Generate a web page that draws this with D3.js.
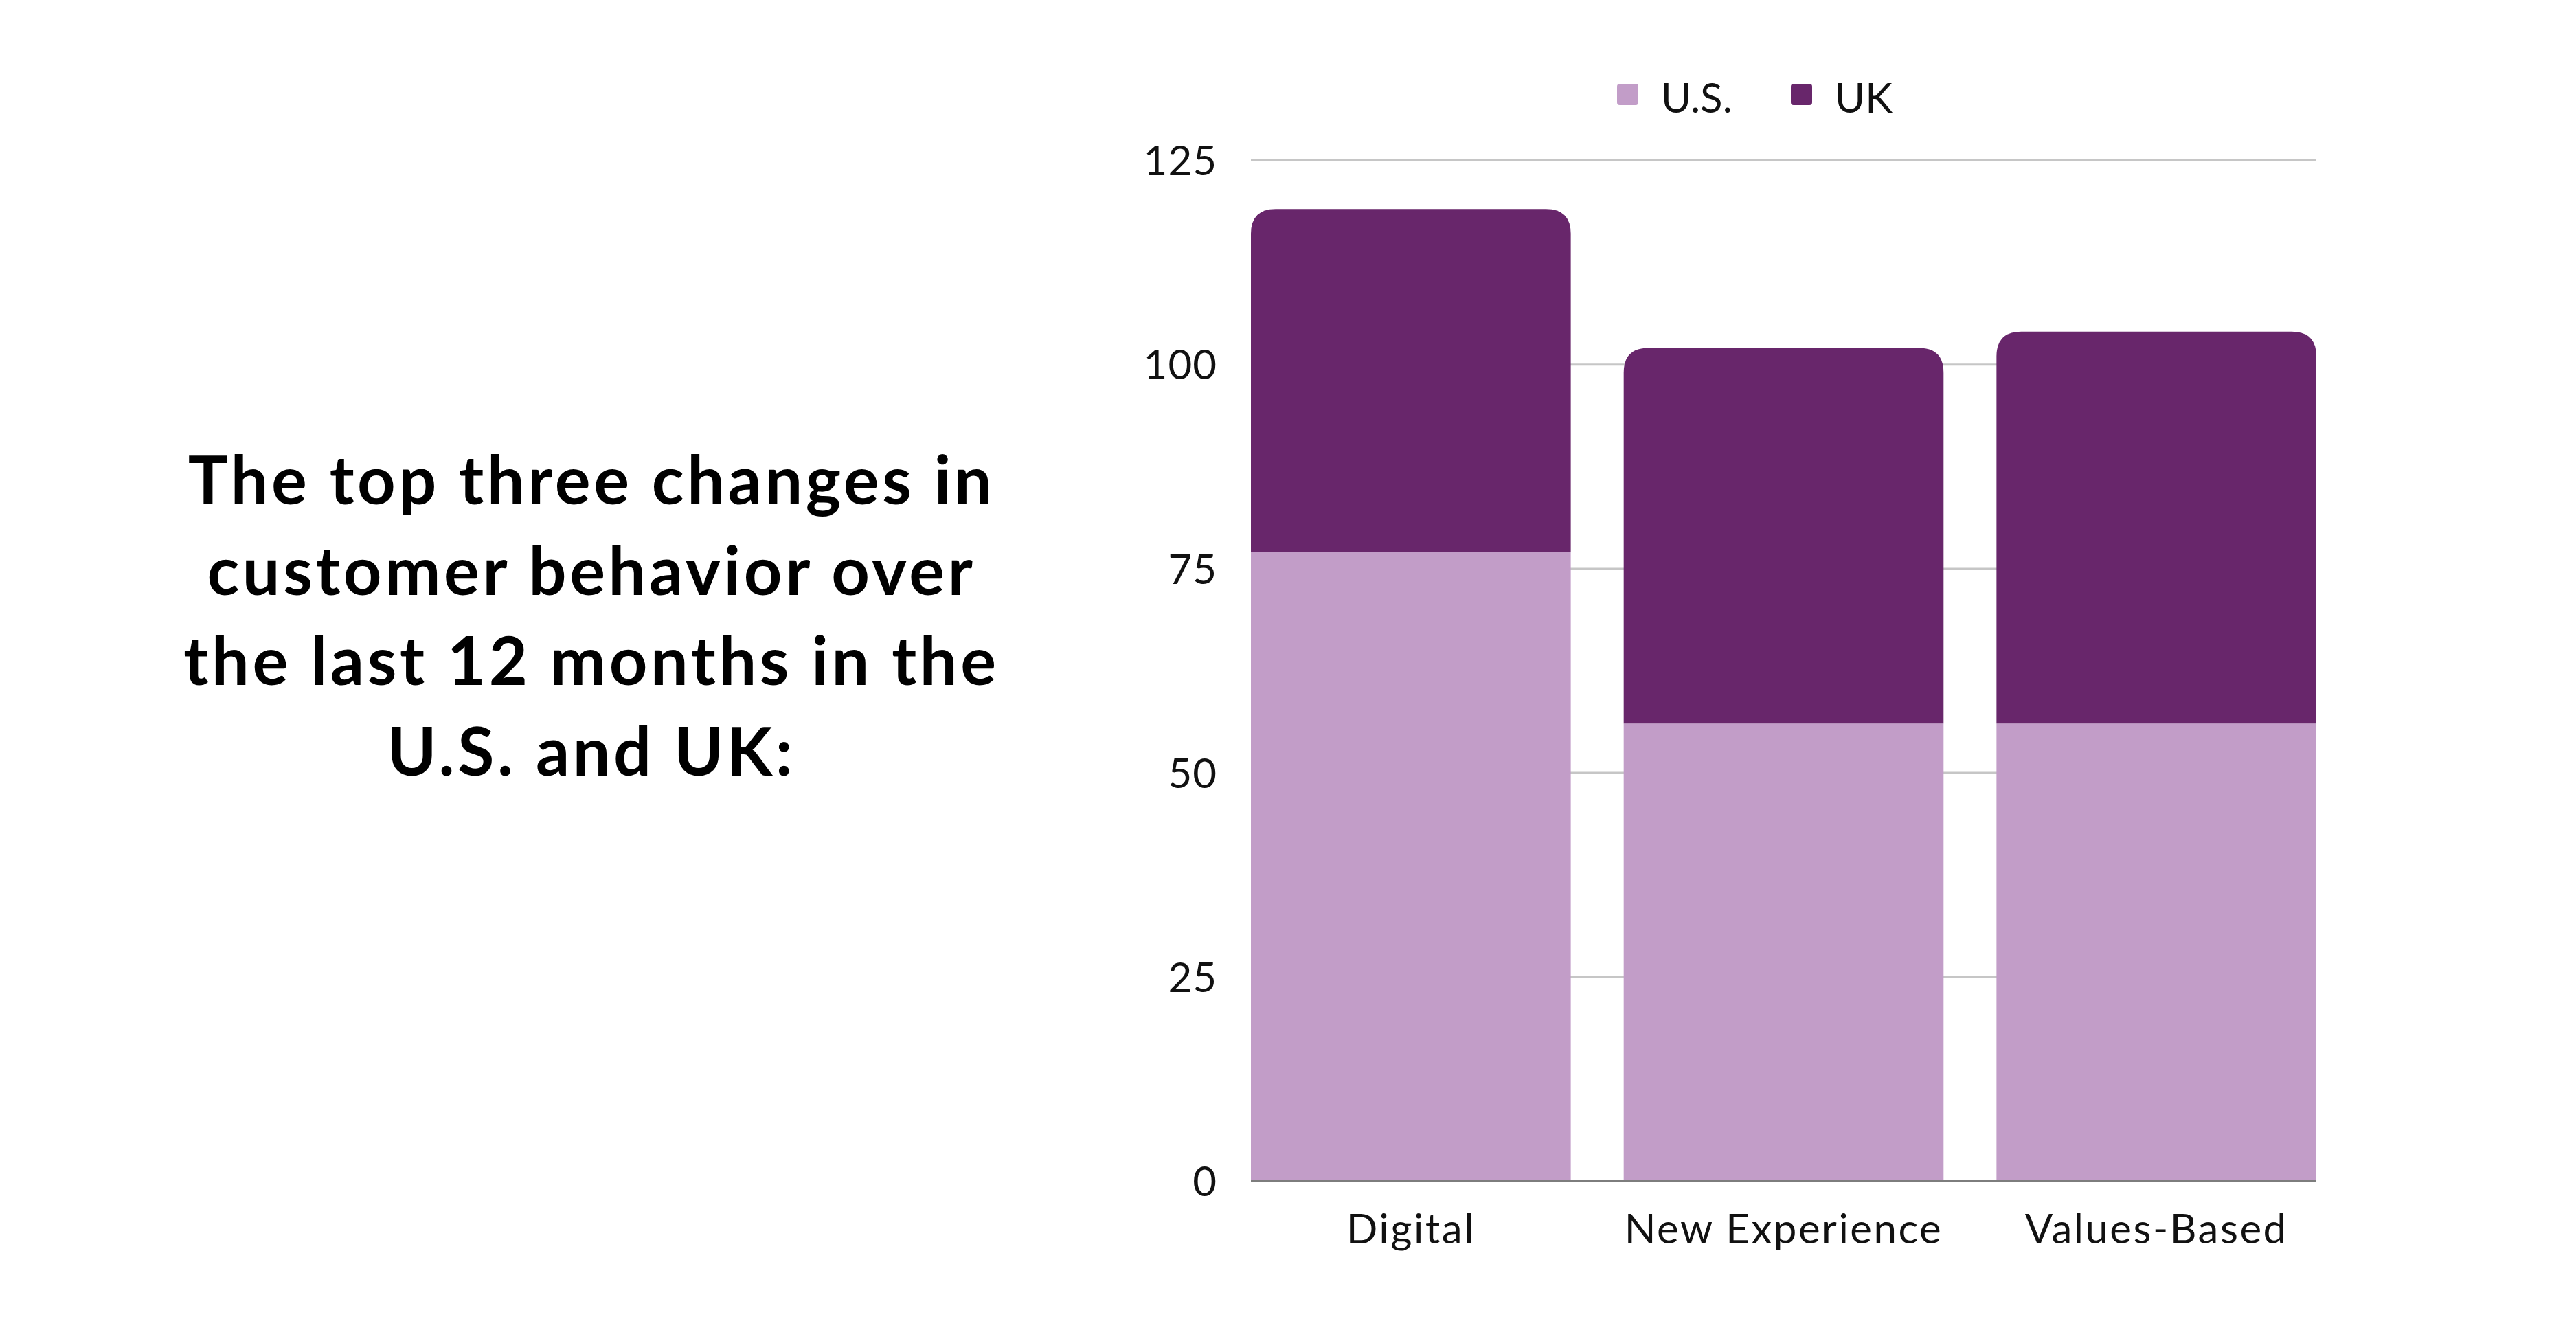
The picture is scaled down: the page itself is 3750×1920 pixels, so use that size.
<!DOCTYPE html>
<html>
<head>
<meta charset="utf-8">
<script src="https://cdn.jsdelivr.net/npm/d3@7"></script>
<style>
  html, body { margin: 0; padding: 0; background: #ffffff; }
  svg { display: block; }
</style>
</head>
<body>
<svg id="chart" width="3750" height="1920"></svg>
<script>
// ---- data ----
const categories = ["Digital", "New Experience", "Values-Based"];
const seriesNames = ["U.S.", "UK"];
const usValues = [77, 56, 56];
const ukValues = [42, 46, 48];
const yTicks = [0, 25, 50, 75, 100, 125];
const titleLines = [
  "The top three changes in",
  "customer behavior over",
  "the last 12 months in the",
  "U.S. and UK:"
];

const colors = { "U.S.": "#c29dc8", "UK": "#68266b" };

const W = 3750, H = 1920;
const plot = { left: 1821, right: 3372, top: 233, bottom: 1719 };

const svg = d3.select("#chart");
svg.append("rect").attr("width", W).attr("height", H).attr("fill", "#fff");

const rows = categories.map((c, i) => ({ cat: c, "U.S.": usValues[i], "UK": ukValues[i] }));
const stacked = d3.stack().keys(seriesNames)(rows);

const x = d3.scaleBand().domain(categories).range([plot.left, plot.right])
  .paddingInner(0.142).paddingOuter(0);
const y = d3.scaleLinear().domain([0, 125]).range([plot.bottom, plot.top]);

// gridlines + y tick labels
const yAxis = d3.axisLeft(y).tickValues(yTicks).tickSize(0).tickPadding(0);
const gAxis = svg.append("g").attr("transform", `translate(${plot.left},0)`).call(yAxis);
gAxis.select(".domain").remove();
gAxis.selectAll(".tick line").remove();
gAxis.selectAll(".tick").filter(d => d !== 0).append("line")
  .attr("x1", 0).attr("x2", plot.right - plot.left)
  .attr("stroke", "#c6c6c6").attr("stroke-width", 3);
gAxis.selectAll(".tick text")
  .attr("x", -49)
  .attr("dy", "0.36em")
  .attr("font-family", "Lato, 'Open Sans', sans-serif")
  .attr("font-size", 60)
  .attr("letter-spacing", 1)
  .attr("fill", "#111")
  .attr("text-anchor", "end");

// bars
const r = 36;
function roundedTop(x0, y0, w, h, rad) {
  rad = Math.min(rad, h, w / 2);
  return `M${x0},${y0 + h}V${y0 + rad}Q${x0},${y0} ${x0 + rad},${y0}H${x0 + w - rad}Q${x0 + w},${y0} ${x0 + w},${y0 + rad}V${y0 + h}Z`;
}

const layers = svg.append("g").selectAll("g").data(stacked).join("g")
  .attr("fill", d => colors[d.key]);

layers.each(function(layer, li) {
  const g = d3.select(this);
  const isTop = li === stacked.length - 1;
  g.selectAll("path").data(layer).join("path")
    .attr("d", d => {
      const x0 = x(d.data.cat), w = x.bandwidth();
      const yTop = y(d[1]), yBot = y(d[0]);
      if (isTop) return roundedTop(x0, yTop, w, yBot - yTop, r);
      return `M${x0},${yBot}V${yTop}H${x0 + w}V${yBot}Z`;
    });
});

// baseline
svg.append("line")
  .attr("x1", plot.left).attr("x2", plot.right)
  .attr("y1", y(0)).attr("y2", y(0))
  .attr("stroke", "#7d7d7d").attr("stroke-width", 3);

// x axis labels
const xAxis = d3.axisBottom(x).tickSize(0).tickPadding(0);
const gx = svg.append("g").attr("transform", `translate(0,${plot.bottom})`).call(xAxis);
gx.select(".domain").remove();
gx.selectAll(".tick text")
  .attr("y", 91)
  .attr("dy", 0)
  .attr("font-family", "Lato, 'Open Sans', sans-serif")
  .attr("font-size", 60)
  .attr("letter-spacing", 2.5)
  .attr("fill", "#111");

// legend
const legendItems = [
  { name: "U.S.", sx: 2354, tx: 2418 },
  { name: "UK", sx: 2607, tx: 2671 }
];
const lg = svg.append("g");
legendItems.forEach(it => {
  lg.append("rect").attr("x", it.sx).attr("y", 122).attr("width", 31).attr("height", 31)
    .attr("rx", 4).attr("fill", colors[it.name]);
  lg.append("text").attr("x", it.tx).attr("y", 164)
    .attr("font-family", "Lato, 'Open Sans', sans-serif")
    .attr("font-size", 60).attr("fill", "#111").text(it.name);
});

// title
const tg = svg.append("g");
const titleTexts = titleLines.map((t, i) => tg.append("text")
    .attr("x", 861).attr("y", 734 + i * 131.5)
    .attr("text-anchor", "middle")
    .attr("font-family", "Lato, 'Open Sans', sans-serif")
    .attr("font-weight", 700)
    .attr("font-size", 97)
    .attr("fill", "#000")
    .text(t));
// widen letter spacing so the first line spans the same width as in the reference
const targetW = 1170;
const w0 = titleTexts[0].node().getComputedTextLength();
const ls = Math.max(0, (targetW - w0) / (titleLines[0].length - 1));
titleTexts.forEach(t => t.attr("letter-spacing", ls));
</script>
</body>
</html>
